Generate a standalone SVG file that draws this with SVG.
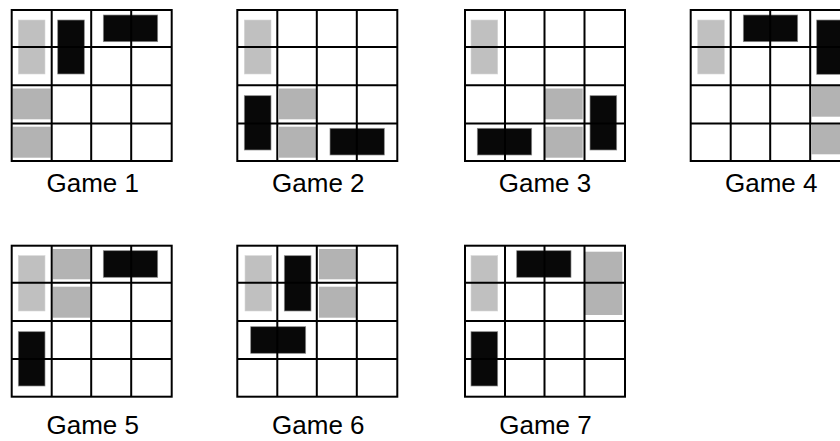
<svg xmlns="http://www.w3.org/2000/svg" width="840" height="441" viewBox="0 0 840 441">
<defs>
<style>
.lt{fill:#c0c0c0;stroke:#d6d6d6;stroke-width:0.6}
.dk{fill:#b3b3b3}
.bk{fill:#080808;stroke:#8a8a8a;stroke-width:0.7}
.grid{fill:none;stroke:#000;stroke-width:2}
.lbl{font-family:"Liberation Sans",Arial,sans-serif;font-size:26px;fill:#000;text-anchor:middle}
</style>
<g id="gridlines">
<rect class="grid" x="0" y="0" width="160" height="151"/>
<path class="grid" d="M40,0V151M79.5,0V151M119.5,0V151M0,37H160M0,75.3H160M0,113.4H160"/>
</g>
</defs>
<rect width="840" height="441" fill="#fff"/>

<g id="game1" transform="translate(11.7,10)">
<rect class="lt" x="6.6" y="10" width="26.7" height="54"/>
<rect class="bk" x="46" y="10" width="26.6" height="54"/>
<rect class="bk" x="91.6" y="5" width="54.4" height="26.7"/>
<rect class="dk" x="1" y="78.5" width="38" height="30.8"/>
<rect class="dk" x="1" y="116.7" width="38" height="31"/>
<use href="#gridlines"/>
<text class="lbl" x="81" y="181.7">Game 1</text>
</g>

<g id="game2" transform="translate(237.3,10)">
<rect class="lt" x="7" y="10" width="26.7" height="54"/>
<rect class="bk" x="7" y="85.7" width="26.7" height="54.3"/>
<rect class="dk" x="41.7" y="78.5" width="37.7" height="30.8"/>
<rect class="dk" x="41.7" y="116.7" width="37.7" height="31"/>
<rect class="bk" x="92.7" y="118.3" width="54.3" height="26.7"/>
<use href="#gridlines"/>
<text class="lbl" x="81" y="181.7">Game 2</text>
</g>

<g id="game3" transform="translate(465,10)">
<rect class="lt" x="6" y="10" width="26.7" height="54"/>
<rect class="dk" x="80" y="78.5" width="37.7" height="30.8"/>
<rect class="dk" x="80" y="116.7" width="37.7" height="31"/>
<rect class="bk" x="125" y="85.7" width="26.7" height="54.3"/>
<rect class="bk" x="12.3" y="118.3" width="54.4" height="26.7"/>
<use href="#gridlines"/>
<text class="lbl" x="80" y="181.7">Game 3</text>
</g>

<g id="game4" transform="translate(690.7,10)">
<rect class="lt" x="7" y="10" width="26.6" height="54"/>
<rect class="bk" x="52.6" y="5" width="54.4" height="26.7"/>
<rect class="bk" x="126" y="10" width="26.7" height="54.3"/>
<rect class="dk" x="121" y="76" width="38" height="30.7"/>
<rect class="dk" x="121" y="114.3" width="38" height="30"/>
<use href="#gridlines"/>
<text class="lbl" x="80.5" y="181.7">Game 4</text>
</g>

<g id="game5" transform="translate(11.7,245.7)">
<rect class="lt" x="6.6" y="10" width="26.7" height="55.3"/>
<rect class="dk" x="41" y="3.3" width="37.3" height="30.3"/>
<rect class="dk" x="41" y="41" width="37.3" height="31"/>
<rect class="bk" x="91.6" y="5" width="54.4" height="26.6"/>
<rect class="bk" x="6.6" y="86" width="26.7" height="54.3"/>
<use href="#gridlines"/>
<text class="lbl" x="81" y="188.6">Game 5</text>
</g>

<g id="game6" transform="translate(237.3,245.7)">
<rect class="lt" x="7.7" y="10" width="26.7" height="55.3"/>
<rect class="bk" x="47" y="10" width="26.7" height="55.3"/>
<rect class="dk" x="81.7" y="3.3" width="37" height="30.3"/>
<rect class="dk" x="81.7" y="41" width="37" height="31"/>
<rect class="bk" x="13.4" y="81" width="55" height="26.6"/>
<use href="#gridlines"/>
<text class="lbl" x="81" y="188.6">Game 6</text>
</g>

<g id="game7" transform="translate(465,245.7)">
<rect class="lt" x="6" y="10" width="26.7" height="55.3"/>
<rect class="bk" x="51.7" y="5" width="54.3" height="26.6"/>
<rect class="dk" x="120" y="6" width="37.3" height="63.3"/>
<rect class="bk" x="6" y="86" width="26.7" height="54.3"/>
<use href="#gridlines"/>
<text class="lbl" x="80.5" y="188.6">Game 7</text>
</g>

<g id="connectors"/>
</svg>
